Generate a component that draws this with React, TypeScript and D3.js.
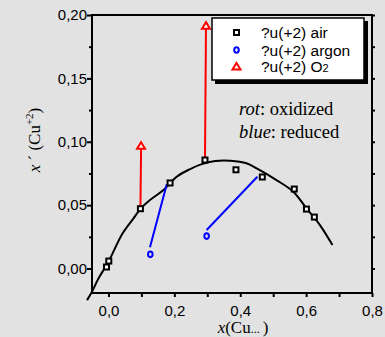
import React, { useEffect, useRef } from 'react'
import * as d3 from 'd3'

// fitted curve
const curveX = [-0.065, -0.05, -0.03, 0.0, 0.043, 0.076, 0.096, 0.126, 0.167, 0.207, 0.248, 0.281, 0.324, 0.37, 0.419, 0.45, 0.51, 0.561, 0.601, 0.642, 0.68]
const curveY = [-0.0249, -0.0183, -0.0077, 0.0054, 0.0278, 0.0396, 0.0467, 0.054, 0.0619, 0.0724, 0.0785, 0.0822, 0.0848, 0.085, 0.083, 0.079, 0.0698, 0.0606, 0.0475, 0.0343, 0.0185]

// ?u(+2) air
const airX = [-0.006, 0.001, 0.097, 0.187, 0.293, 0.387, 0.467, 0.564, 0.601, 0.625]
const airY = [0.0012, 0.0059, 0.0472, 0.0675, 0.0856, 0.0779, 0.0722, 0.0627, 0.0469, 0.0406]

// ?u(+2) argon
const argonX = [0.127, 0.298]
const argonY = [0.0112, 0.0256]

// ?u(+2) O2
const o2X = [0.099, 0.296]
const o2Y = [0.0969, 0.1916]

// blue lines: reduced (argon -> air)
const blueFromX = [0.126, 0.298]
const blueFromY = [0.0167, 0.0304]
const blueToX = [0.177, 0.452]
const blueToY = [0.0664, 0.0724]

// red lines: oxidized (air -> O2)
const redFromX = [0.097, 0.293]
const redFromY = [0.0472, 0.0856]
const redToX = [0.099, 0.296]
const redToY = [0.095, 0.19]

const xTicks = [0, 0.2, 0.4, 0.6, 0.8]
const xMinor = [0.1, 0.3, 0.5, 0.7]
const yTicks = [0, 0.05, 0.1, 0.15, 0.2]
const yMinor = [0.025, 0.075, 0.125, 0.175]

const legendLabels = ['?u(+2) air', '?u(+2) argon', '?u(+2) O']

export default function App() {
  const ref = useRef<SVGSVGElement>(null)

  useEffect(() => {
    let svg = d3.select(ref.current)
    svg.selectAll('*').remove()

    let width = 385
    let height = 337
    let sans = 'Liberation Sans, Arial, sans-serif'
    let serif = 'Liberation Serif, Times New Roman, serif'
    let bg = '#e2e2e2'

    svg.append('rect').attr('width', width).attr('height', height).attr('fill', bg)

    let x = d3.scaleLinear().domain([-0.05, 0.8]).range([92, 372])
    let y = d3.scaleLinear().domain([-0.0193, 0.2]).range([293, 15])

    let comma = (f: string) => (d: any) => d3.format(f)(d).replace('.', ',')

    // axes
    let styleAxis = (g: any) => {
      g.select('.domain').remove()
      g.selectAll('line').attr('stroke', '#000').attr('stroke-width', 2)
      g.selectAll('text').attr('fill', '#000').attr('font-size', 15).attr('font-family', sans)
    }

    svg.append('g').attr('transform', 'translate(92,0)')
      .call(d3.axisLeft(y).tickValues(yTicks).tickSize(5).tickPadding(0).tickFormat(comma('.2f')))
      .call(styleAxis)
    svg.append('g').attr('transform', 'translate(92,0)')
      .call(d3.axisLeft(y).tickValues(yMinor).tickSize(3).tickFormat(() => ''))
      .call(styleAxis)
    svg.append('g').attr('transform', 'translate(372,0)')
      .call(d3.axisRight(y).tickValues(yTicks.concat(yMinor)).tickSize(3).tickFormat(() => ''))
      .call(styleAxis)
    svg.append('g').attr('transform', 'translate(0,293)')
      .call(d3.axisBottom(x).tickValues(xTicks).tickSize(4).tickPadding(8).tickFormat(comma('.1f')))
      .call(styleAxis)
    svg.append('g').attr('transform', 'translate(0,293)')
      .call(d3.axisBottom(x).tickValues(xMinor).tickSize(4).tickFormat(() => ''))
      .call(styleAxis)

    // frame
    svg.append('path')
      .attr('d', `M92,293 L92,15 L373,15 M372,15 L372,293 M91,293 L373,293`)
      .attr('fill', 'none').attr('stroke', '#000').attr('stroke-width', 2)

    // curve
    let curve = curveX.map((d, i) => [d, curveY[i]])
    svg.append('path')
      .datum(curve)
      .attr('d', d3.line().x((d: any) => x(d[0])).y((d: any) => y(d[1])).curve(d3.curveCatmullRom))
      .attr('fill', 'none').attr('stroke', '#000').attr('stroke-width', 2)

    // red + blue lines
    svg.selectAll('.red-line').data(redFromX).join('line')
      .attr('class', 'red-line')
      .attr('x1', (d, i) => x(d)).attr('y1', (d, i) => y(redFromY[i]))
      .attr('x2', (d, i) => x(redToX[i])).attr('y2', (d, i) => y(redToY[i]))
      .attr('stroke', '#ff0000').attr('stroke-width', 2)
    svg.selectAll('.blue-line').data(blueFromX).join('line')
      .attr('class', 'blue-line')
      .attr('x1', (d, i) => x(d)).attr('y1', (d, i) => y(blueFromY[i]))
      .attr('x2', (d, i) => x(blueToX[i])).attr('y2', (d, i) => y(blueToY[i]))
      .attr('stroke', '#0000ff').attr('stroke-width', 2)

    // markers
    let square = (g: any, cx: number, cy: number) =>
      g.append('rect').attr('x', cx - 2.5).attr('y', cy - 2.5).attr('width', 5).attr('height', 5)
        .attr('fill', '#fff').attr('stroke', '#000').attr('stroke-width', 2)
    let circle = (g: any, cx: number, cy: number) =>
      g.append('ellipse').attr('cx', cx).attr('cy', cy).attr('rx', 2.3).attr('ry', 2.8)
        .attr('fill', 'none').attr('stroke', '#0000ff').attr('stroke-width', 2)
    let triangle = (g: any, cx: number, cy: number) =>
      g.append('path').attr('d', `M${cx},${cy - 3.5} L${cx + 4},${cy + 3} L${cx - 4},${cy + 3} Z`)
        .attr('fill', '#fff').attr('stroke', '#ff0000').attr('stroke-width', 2)

    let marks = svg.append('g')
    airX.forEach((d, i) => square(marks, x(d), y(airY[i])))
    argonX.forEach((d, i) => circle(marks, x(d), y(argonY[i])))
    o2X.forEach((d, i) => triangle(marks, x(d), y(o2Y[i])))

    // legend
    let legend = svg.append('g')
    legend.append('rect').attr('x', 215).attr('y', 21).attr('width', 153).attr('height', 63).attr('fill', '#000')
    legend.append('rect').attr('x', 212).attr('y', 18).attr('width', 152).attr('height', 62)
      .attr('fill', '#fff').attr('stroke', '#000').attr('stroke-width', 1.5)
    let ly = [32.5, 50, 66.5]
    square(legend, 236.5, ly[0])
    circle(legend, 236.5, ly[1])
    triangle(legend, 236.5, ly[2])
    legend.selectAll('.legend-text').data(legendLabels).join('text')
      .attr('class', 'legend-text')
      .attr('x', 261).attr('y', (d, i) => ly[i] + 5.5)
      .attr('font-size', 15.5).attr('font-family', sans).attr('fill', '#000')
      .text(d => d)
    legend.selectAll('.legend-text').filter((d, i) => i == 2)
      .append('tspan').attr('font-size', 11).text('2')

    // annotations
    let note1 = svg.append('text').attr('x', 239).attr('y', 115)
      .attr('font-family', serif).attr('font-size', 18.5).attr('fill', '#000')
    note1.append('tspan').attr('font-style', 'italic').text('rot')
    note1.append('tspan').text(': oxidized')
    let note2 = svg.append('text').attr('x', 239).attr('y', 138)
      .attr('font-family', serif).attr('font-size', 18.5).attr('fill', '#000')
    note2.append('tspan').attr('font-style', 'italic').text('blue')
    note2.append('tspan').text(': reduced')

    // axis titles
    let xt = svg.append('text').attr('x', 243).attr('y', 333).attr('text-anchor', 'middle')
      .attr('font-family', serif).attr('font-size', 17).attr('fill', '#000')
    xt.append('tspan').attr('font-style', 'italic').text('x')
    xt.append('tspan').text('(Cu')
    xt.append('tspan').attr('font-size', 12).text('... ')
    xt.append('tspan').text(')')

    let yt = svg.append('text').attr('transform', 'translate(40,140) rotate(-90)').attr('text-anchor', 'middle')
      .attr('font-family', serif).attr('font-size', 17).attr('fill', '#000')
    yt.append('tspan').attr('font-style', 'italic').text('x')
    yt.append('tspan').text('\u00a0\u00b4 (Cu')
    yt.append('tspan').attr('font-size', 11).attr('dy', -7).text('+2')
    yt.append('tspan').attr('dy', 7).text(')')
  }, [])

  return (
    <svg ref={ref} width={385} height={337}
      style={{ position: 'fixed', left: 0, top: 0, display: 'block' }} />
  )
}
